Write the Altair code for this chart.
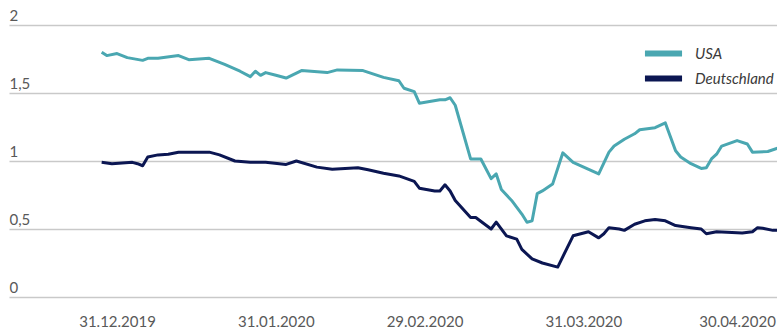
import altair as alt
import pandas as pd

# ---- data ----
series_names = ["USA", "Deutschland"]
series_colors = ["#4aa7b1", "#0b1652"]

usa_dates = ["2019-12-28", "2019-12-29", "2019-12-31", "2020-01-02", "2020-01-05", "2020-01-06",
             "2020-01-08", "2020-01-12", "2020-01-14", "2020-01-18", "2020-01-21", "2020-01-24",
             "2020-01-26", "2020-01-27", "2020-01-28", "2020-01-29", "2020-01-31", "2020-02-02",
             "2020-02-05", "2020-02-10", "2020-02-12", "2020-02-17", "2020-02-21", "2020-02-24",
             "2020-02-25", "2020-02-27", "2020-02-28", "2020-03-03", "2020-03-04", "2020-03-05",
             "2020-03-06", "2020-03-09", "2020-03-11", "2020-03-13", "2020-03-14", "2020-03-15",
             "2020-03-17", "2020-03-19", "2020-03-20", "2020-03-21", "2020-03-22", "2020-03-23",
             "2020-03-25", "2020-03-27", "2020-03-29", "2020-04-03", "2020-04-05", "2020-04-06",
             "2020-04-08", "2020-04-10", "2020-04-11", "2020-04-14", "2020-04-16", "2020-04-18",
             "2020-04-19", "2020-04-21", "2020-04-23", "2020-04-24", "2020-04-25", "2020-04-26",
             "2020-04-27", "2020-04-30", "2020-05-02", "2020-05-03", "2020-05-06", "2020-05-08"]
usa_values = [1.80, 1.775, 1.79, 1.76, 1.74, 1.755, 1.755, 1.775, 1.745, 1.755, 1.71, 1.66,
              1.62, 1.66, 1.63, 1.65, 1.63, 1.61, 1.665, 1.65, 1.67, 1.665, 1.615, 1.59,
              1.535, 1.51, 1.425, 1.45, 1.45, 1.465, 1.41, 1.015, 1.015, 0.87, 0.905, 0.79,
              0.71, 0.61, 0.55, 0.56, 0.76, 0.78, 0.83, 1.06, 0.99, 0.905, 1.065, 1.11,
              1.16, 1.2, 1.23, 1.245, 1.28, 1.075, 1.03, 0.98, 0.945, 0.95, 1.015, 1.05,
              1.11, 1.15, 1.125, 1.065, 1.07, 1.095]

de_dates = ["2019-12-28", "2019-12-30", "2020-01-03", "2020-01-04", "2020-01-05", "2020-01-06",
            "2020-01-08", "2020-01-10", "2020-01-12", "2020-01-18", "2020-01-20", "2020-01-23",
            "2020-01-26", "2020-01-29", "2020-02-02", "2020-02-04", "2020-02-08", "2020-02-11",
            "2020-02-16", "2020-02-18", "2020-02-21", "2020-02-24", "2020-02-27", "2020-02-28",
            "2020-03-02", "2020-03-03", "2020-03-04", "2020-03-05", "2020-03-06", "2020-03-09",
            "2020-03-10", "2020-03-13", "2020-03-14", "2020-03-16", "2020-03-18", "2020-03-19",
            "2020-03-21", "2020-03-23", "2020-03-26", "2020-03-29", "2020-04-01", "2020-04-03",
            "2020-04-04", "2020-04-05", "2020-04-07", "2020-04-08", "2020-04-10", "2020-04-12",
            "2020-04-14", "2020-04-16", "2020-04-18", "2020-04-21", "2020-04-23", "2020-04-24",
            "2020-04-26", "2020-04-29", "2020-05-01", "2020-05-03", "2020-05-04", "2020-05-05",
            "2020-05-07", "2020-05-08"]
de_values = [0.99, 0.98, 0.99, 0.98, 0.965, 1.03, 1.045, 1.05, 1.065, 1.065, 1.045, 1.0,
             0.99, 0.99, 0.975, 1.0, 0.955, 0.94, 0.95, 0.935, 0.91, 0.89, 0.85, 0.80,
             0.78, 0.78, 0.825, 0.78, 0.71, 0.585, 0.585, 0.50, 0.55, 0.45, 0.425, 0.35,
             0.28, 0.25, 0.22, 0.45, 0.48, 0.435, 0.465, 0.51, 0.50, 0.49, 0.535, 0.56,
             0.57, 0.56, 0.525, 0.51, 0.50, 0.465, 0.48, 0.475, 0.47, 0.48, 0.51, 0.505,
             0.49, 0.49]

y_ticks = [0, 0.5, 1, 1.5, 2]
x_tick_dates = [(2019, 12, 31), (2020, 1, 31), (2020, 2, 29), (2020, 3, 31), (2020, 4, 30)]

rows = [{"datum": d, "wert": v, "land": "USA"} for d, v in zip(usa_dates, usa_values)]
rows += [{"datum": d, "wert": v, "land": "Deutschland"} for d, v in zip(de_dates, de_values)]
df = pd.DataFrame(rows)

FONT = "Lato"

x = alt.X(
    "datum:T",
    scale=alt.Scale(
        type="utc",
        domain=[alt.DateTime(year=2019, month=12, date=9, hours=22, utc=True),
                alt.DateTime(year=2020, month=5, date=7, hours=19, utc=True)],
    ),
    axis=alt.Axis(
        values=[alt.DateTime(year=a, month=b, date=c, utc=True) for a, b, c in x_tick_dates],
        labelExpr="utcFormat(datum.value, '%d.%m.%Y')",
        labelFont=FONT,
        labelFontSize=15,
        labelColor="#595959",
        domain=False,
        ticks=False,
        grid=False,
        labelPadding=17,
        labelFlush=False,
        title=None,
    ),
)

y = alt.Y(
    "wert:Q",
    scale=alt.Scale(domain=[0, 2], nice=False),
    axis=alt.Axis(
        values=y_ticks,
        labelExpr="replace(toString(datum.value), '.', ',')",
        labelFont=FONT,
        labelFontSize=15,
        labelColor="#595959",
        labelAlign="left",
        labelBaseline="bottom",
        labelPadding=0,
        labelOffset=-2,
        domain=False,
        ticks=False,
        grid=True,
        gridColor="#c9c9c9",
        gridWidth=1.5,
        title=None,
    ),
)

color = alt.Color(
    "land:N",
    scale=alt.Scale(domain=series_names, range=series_colors),
    legend=alt.Legend(
        title=None,
        orient="none",
        legendX=647,
        legendY=21,
        symbolType="M-5.3,0L5.3,0",
        symbolSize=49,
        symbolStrokeWidth=6,
        labelFont=FONT,
        labelFontSize=15,
        labelFontStyle="italic",
        labelColor="#3a3a3a",
        labelOffset=24,
        rowPadding=0,
        padding=0,
    ),
)

chart = (
    alt.Chart(df)
    .mark_line(strokeWidth=3, clip=True, strokeJoin="round")
    .encode(x=x, y=y, color=color, order=alt.Order("datum:T"))
    .properties(width=768, height=272, padding={"left": 9, "top": 8, "right": 0, "bottom": 0},
                background="white")
    .configure_view(stroke=None)
)

chart.save("out.html", embed_options={"renderer": "svg", "actions": False})
